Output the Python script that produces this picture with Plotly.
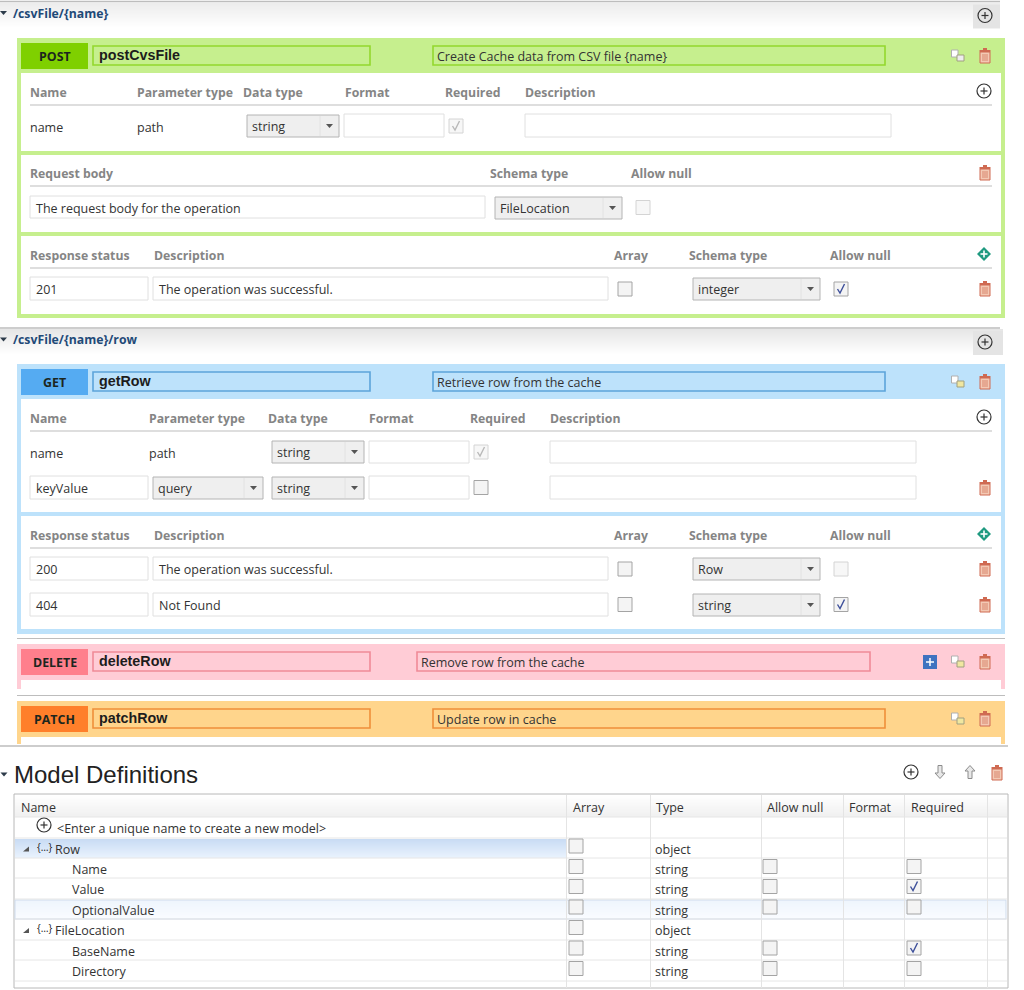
import plotly.graph_objects as go

# text
param_headers = ["Name", "Parameter type", "Data type", "Format", "Required", "Description"]
body_headers = ["Request body", "Schema type", "Allow null"]
resp_headers = ["Response status", "Description", "Array", "Schema type", "Allow null"]
paths = ["/csvFile/{name}", "/csvFile/{name}/row"]
methods = ["POST", "GET", "DELETE", "PATCH"]
op_names = ["postCvsFile", "getRow", "deleteRow", "patchRow"]
op_descs = ["Create Cache data from CSV file {name}", "Retrieve row from the cache",
            "Remove row from the cache", "Update row in cache"]
model_headers = ["Name", "Array", "Type", "Allow null", "Format", "Required"]
model_names = ["Row", "Name", "Value", "OptionalValue", "FileLocation", "BaseName", "Directory"]
model_types = ["object", "string", "string", "string", "object", "string", "string"]
model_null = [None, False, False, False, None, False, False]
model_req = [None, False, True, False, None, True, False]

FONT = "Open Sans"
TXT = "#333333"
HEAD = "#858585"
FS = 12.5
HS = 12.25
shapes = []
notes = []


def rect(x0, y0, x1, y1, fill=None, line=None, lw=1):
    shapes.append(dict(type="rect", x0=x0, y0=y0, x1=x1, y1=y1, fillcolor=fill or "rgba(0,0,0,0)",
                       line=dict(color=line or "rgba(0,0,0,0)", width=lw if line else 0)))


def hline(x0, x1, y, color="#bdbdbd", lw=1):
    shapes.append(dict(type="line", x0=x0, x1=x1, y0=y, y1=y, line=dict(color=color, width=lw)))


def vline(x, y0, y1, color="#e4e4e4", lw=1):
    shapes.append(dict(type="line", x0=x, x1=x, y0=y0, y1=y1, line=dict(color=color, width=lw)))


def path(d, fill=None, line=None, lw=1):
    shapes.append(dict(type="path", path=d, fillcolor=fill or "rgba(0,0,0,0)",
                       line=dict(color=line or "rgba(0,0,0,0)", width=lw if line else 0)))


def text(x, y, s, size=12, color=TXT, bold=False, font=FONT):
    notes.append(dict(x=x, y=y, text=f"<b>{s}</b>" if bold else s, showarrow=False, xanchor="left",
                      yanchor="middle", borderpad=0, borderwidth=0,
                      font=dict(family=font, size=size, color=color)))


def mix(a, b, t):
    ca = [int(a[i:i + 2], 16) for i in (1, 3, 5)]
    cb = [int(b[i:i + 2], 16) for i in (1, 3, 5)]
    return "#%02x%02x%02x" % tuple(round(p + (q - p) * t) for p, q in zip(ca, cb))


def grad(x0, y0, x1, y1, c0, c1):
    n = int(y1 - y0)
    for i in range(n):
        rect(x0, y0 + i, x1, y0 + i + 1, fill=mix(c0, c1, i / max(n - 1, 1)))


def tri_down(x, y):
    path(f"M{x-3.5},{y-2} L{x+3.5},{y-2} L{x},{y+2} Z", fill="#2d3b4a")


def circle_plus(x, y, r=7):
    shapes.append(dict(type="circle", x0=x - r, x1=x + r, y0=y - r, y1=y + r,
                       line=dict(color="#333333", width=1.2), fillcolor="rgba(255,255,255,0)"))
    hline(x - 3.5, x + 3.5, y, "#333333", 1.2)
    vline(x, y - 3.5, y + 3.5, "#333333", 1.2)


def trash(x, y, color="#cf6a52"):
    rect(x - 5, y - 4, x + 5, y + 7, fill="#f3c9b4", line=color, lw=1)
    rect(x - 5.5, y - 6, x + 5.5, y - 4, fill=color)
    rect(x - 2, y - 8, x + 2, y - 6, fill=color)
    for dx in (-2, 0, 2):
        vline(x + dx, y - 2, y + 5, color, 0.7)


def copy_icon(x, y, tint="#eeeeee"):
    rect(x - 6.5, y - 6, x, y + 1, fill="#ffffff", line="#b0b0b0")
    rect(x - 1, y - 1, x + 6, y + 5, fill=tint, line="#a0a080")


def diamond(x, y):
    r = 7
    path(f"M{x},{y-r} L{x+r},{y} L{x},{y+r} L{x-r},{y} Z", fill="#1f9a80")
    hline(x - 3.5, x + 3.5, y, "#ffffff", 1.6)
    vline(x, y - 3.5, y + 3.5, "#ffffff", 1.6)


def check(x0, yc, on=False, dim=False):
    # x0 is the left edge, box is 14 px wide
    rect(x0, yc - 7, x0 + 14, yc + 7, fill="#f7f7f7" if dim else "#f4f4f4",
         line="#d4d4d4" if dim else "#a4a4a4", lw=1)
    if on:
        c = "#b9b9b9" if dim else "#3d4f9a"
        path(f"M{x0+3.5},{yc} L{x0+6},{yc+4} L{x0+10.5},{yc-5}", line=c, lw=1.4)


def field(x0, x1, y0, y1, s=None, border="#e0e0e0"):
    rect(x0, y0, x1, y1, fill="#ffffff", line=border)
    if s:
        text(x0 + 6, (y0 + y1) / 2 + 1, s, size=FS)


def combo(x0, x1, yc, s):
    rect(x0, yc - 11, x1, yc + 11, fill="#efefef", line="#b4b4b4")
    vline(x1 - 19, yc - 10, yc + 10, "#e2e2e2")
    path(f"M{x1-13},{yc-2} L{x1-6},{yc-2} L{x1-9.5},{yc+2} Z", fill="#555555")
    text(x0 + 5, yc + 0.5, s, size=FS)


def op_header(y, idx, band, badge, edge, desc_x0, desc_x1):
    rect(21, y + 5, 88, y + 31, fill=badge)
    notes.append(dict(x=54.5, y=y + 18, text=f"<b>{methods[idx]}</b>", showarrow=False, xanchor="center",
                      yanchor="middle", borderpad=0, borderwidth=0,
                      font=dict(family=FONT, size=12.4, color="#1c261e")))
    rect(93, y + 8, 370, y + 27, fill=band, line=edge, lw=1.6)
    text(99, y + 17, op_names[idx], size=14.3, color="#1c1c1c", bold=True, font="Liberation Sans")
    rect(desc_x0, y + 8, desc_x1, y + 27, fill=band, line=edge, lw=1.6)
    text(desc_x0 + 4, y + 18, op_descs[idx], size=FS)
    copy_icon(958, y + 18, "#f0e7a0" if idx else "#eeeeee")
    trash(985, y + 18)


def headers(y, xs, labels):
    for x, s in zip(xs, labels):
        text(x, y, s, size=HS, color=HEAD, bold=True)
    hline(30, 992, y + 13)


def path_bar(y, idx, box_right):
    hline(0, 1000, y, "#bdbdbd", 1.5)
    grad(0, y + 1, box_right, y + 27, "#e6e6e6", "#ffffff")
    rect(973, y + 3, box_right, y + 27, fill="#e4e4e4")
    circle_plus(985, y + 14)
    tri_down(3.5, y + 11.5)
    text(13, y + 11.5, paths[idx], size=HS, color="#1f4a78", bold=True)


# first path group
path_bar(1.5, 0, 1000)
rect(17, 38, 1005, 318, fill="#c6ef8e")
for y0, y1 in [(73, 151), (155, 232), (236, 314)]:
    rect(21, y0, 1001, y1, fill="#ffffff")
op_header(38, 0, "#c6ef8e", "#7fd000", "#93d82e", 433, 885)

headers(92, [30, 137, 243, 345, 445, 525], param_headers)
circle_plus(984, 91)
text(30, 127, "name", size=FS)
text(137, 127, "path", size=FS)
combo(247, 339, 126, "string")
field(344, 444, 114, 137)
check(449, 126, on=True, dim=True)
field(525, 891, 114, 137)

headers(173, [30, 490, 631], body_headers)
trash(985, 173)
field(30, 485, 196, 218, "The request body for the operation")
combo(495, 622, 208, "FileLocation")
check(636, 207.5, dim=True)

headers(255, [30, 154, 614, 689, 830], resp_headers)
diamond(984, 254)
field(30, 148, 277, 300, "201")
field(153, 608, 277, 300, "The operation was successful.")
check(618, 289)
combo(693, 820, 289, "integer")
check(834, 289, on=True)
trash(985, 289)

# second path group
path_bar(328, 1, 1003)
rect(17, 364, 1005, 634, fill="#bde2fb")
for y0, y1 in [(399, 512), (516, 629)]:
    rect(21, y0, 1001, y1, fill="#ffffff")
op_header(364, 1, "#bde2fb", "#55abf2", "#5ca4da", 433, 885)

headers(418, [30, 149, 268, 369, 470, 550], param_headers)
circle_plus(984, 417)
text(30, 453, "name", size=FS)
text(149, 453, "path", size=FS)
combo(272, 364, 452, "string")
field(369, 469, 441, 463)
check(474, 452, on=True, dim=True)
field(550, 916, 441, 463)
field(30, 148, 476, 499, "keyValue")
combo(153, 263, 488, "query")
combo(272, 364, 488, "string")
field(369, 469, 476, 499)
check(474, 487.5)
field(550, 916, 476, 499)
trash(985, 488)

headers(535, [30, 154, 614, 689, 830], resp_headers)
diamond(984, 534)
field(30, 148, 557, 580, "200")
field(153, 608, 557, 580, "The operation was successful.")
check(618, 569)
combo(693, 820, 569, "Row")
check(834, 569, dim=True)
trash(985, 569)
field(30, 148, 593, 616, "404")
field(153, 608, 593, 616, "Not Found")
check(618, 604.5)
combo(693, 820, 605, "string")
check(834, 604.5, on=True)
trash(985, 605)

# collapsed operations
hline(17, 1005, 638.5)
rect(17, 644, 1005, 689, fill="#ffccd6")
rect(21, 680, 1001, 689, fill="#ffffff")
op_header(644, 2, "#ffccd6", "#ff7f8c", "#f08a98", 417, 870)
rect(923, 655, 937, 669, fill="#3f73c0")
hline(926, 934, 662, "#ffffff", 1.5)
vline(930, 658, 666, "#ffffff", 1.5)

hline(17, 1005, 695.5)
rect(17, 701, 1005, 744, fill="#ffd58c")
rect(21, 737, 1001, 744, fill="#ffffff")
op_header(701, 3, "#ffd58c", "#ff7f2a", "#ef8f3a", 433, 885)
hline(0, 1008, 746, "#bdbdbd", 1.5)

# model definitions
tri_down(4, 774.5)
text(14, 774, "Model Definitions", size=24, color="#222222", font="Liberation Sans")
circle_plus(911, 772)
for x, sign in [(940, 1), (970, -1)]:
    tip = 772 + 6.5 * sign
    back = 772 - 6.5 * sign
    mid = 772 + 1 * sign
    path(f"M{x},{tip} L{x+5},{mid} L{x+2},{mid} L{x+2},{back} L{x-2},{back} L{x-2},{mid} L{x-5},{mid} Z",
         fill="#e8e8e8", line="#8c8c8c", lw=1)
trash(997, 773)

rect(14, 794, 1008, 988, fill="#ffffff", line="#b8b8b8")
grad(15, 795, 1007, 817, "#ffffff", "#f0f0f0")
grid_x = [566.5, 650.5, 761.5, 843.5, 904.5, 987.5]
row_lines = [817, 838, 858, 878, 899, 919, 940, 960, 981]
grad(15, 839, 566, 858, "#c9dcf4", "#e9f2fd")
grad(15, 900, 1006, 919, "#eef5fd", "#fafcff")
rect(15, 900, 1006, 919, line="#cfdced")
for y in row_lines:
    hline(15, 1007, y, "#e6e6e6")
for x in grid_x:
    vline(x, 795, 988, "#e4e4e4")

header_x = [21, 573, 656, 767, 849, 911]
for x, s in zip(header_x, model_headers):
    text(x, 807, s, size=FS)

circle_plus(44, 825)
text(57, 828.5, "&lt;Enter a unique name to create a new model&gt;", size=FS)
row_y = [849, 869.5, 889.5, 910, 930.5, 951, 971.5]
for i, (y, s) in enumerate(zip(row_y, model_names)):
    if model_null[i] is None:
        path(f"M23,{y+2.5} L29,{y+2.5} L29,{y-2.5} Z", fill="#555555")
        text(37, y - 2.5, "{…}", size=10, color="#222222")
        text(55, y, s, size=FS)
    else:
        text(72, y, s, size=FS)
    text(655, y, model_types[i], size=FS)
    check(569, y - 3)
    if model_null[i] is not None:
        check(763, y - 3, on=model_null[i])
    if model_req[i] is not None:
        check(907, y - 3, on=model_req[i])

fig = go.Figure()
fig.update_layout(
    width=1024, height=990, margin=dict(l=0, r=0, t=0, b=0),
    paper_bgcolor="#ffffff", plot_bgcolor="#ffffff", showlegend=False,
    xaxis=dict(range=[0, 1024], visible=False, fixedrange=True),
    yaxis=dict(range=[990, 0], visible=False, fixedrange=True),
    shapes=shapes, annotations=notes,
)
fig.write_html("out.html", config=dict(displayModeBar=False),
               post_script="document.body.style.margin='0';")
